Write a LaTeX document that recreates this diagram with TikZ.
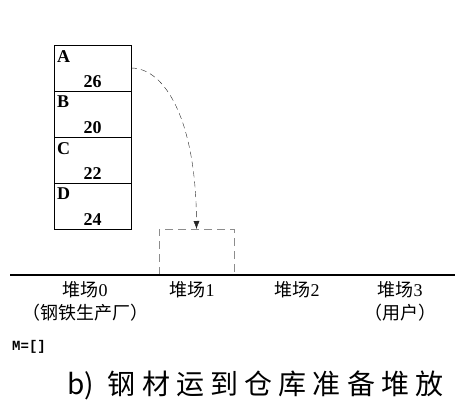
\documentclass[tikz,border=0pt]{standalone}
\usepackage{fontspec}
\setmainfont{Liberation Serif}
\newfontfamily\cjk{Noto Sans CJK SC}
\newfontfamily\cjkwide[LetterSpace=22]{Noto Sans CJK SC}
\newfontfamily\listfont{Liberation Mono}
\usetikzlibrary{arrows.meta,positioning}

\begin{document}
\begin{tikzpicture}[x=1pt,y=-1pt,
    slab/.style={draw,line width=0.8pt,minimum width=77pt,minimum height=46pt,inner sep=0pt,outer sep=0pt},
    slabtag/.style={font=\fontsize{18}{18}\selectfont\bfseries,inner sep=0pt},
    yard/.style={font=\fontsize{18}{20}\selectfont,inner sep=0pt}]
  \useasboundingbox (0,0) rectangle (471,409);
  \node[slab] (slabA) at (92.5,68) {};
  \node[slab,below=0pt of slabA] (slabB) {};
  \node[slab,below=0pt of slabB] (slabC) {};
  \node[slab,below=0pt of slabC] (slabD) {};
  \node[slabtag,anchor=north west] (tagA) at ([shift={(3pt,-5pt)}]slabA.north west) {A};
  \node[slabtag,anchor=north west] (tagB) at ([shift={(3pt,-5pt)}]slabB.north west) {B};
  \node[slabtag,anchor=north west] (tagC) at ([shift={(3pt,-5pt)}]slabC.north west) {C};
  \node[slabtag,anchor=north west] (tagD) at ([shift={(3pt,-5pt)}]slabD.north west) {D};
  \node[slabtag] (weightA) at ([yshift=-14pt]slabA.center) {26};
  \node[slabtag] (weightB) at ([yshift=-14pt]slabB.center) {20};
  \node[slabtag] (weightC) at ([yshift=-14pt]slabC.center) {22};
  \node[slabtag] (weightD) at ([yshift=-14pt]slabD.center) {24};
  \node[draw=gray!90,dash pattern=on 8pt off 5pt,line width=1pt,minimum width=75pt,minimum height=46pt,inner sep=0pt,outer sep=0pt] (slot) at (196.5,252) {};
  \draw[dash pattern=on 6pt off 4pt,gray!30!black,-{Latex[length=8pt,width=6pt]}] (slabA.east) .. controls (165,68) and (196,120) .. (slot.north);
  \coordinate (groundW) at (10,275);
  \coordinate (groundE) at (455,275);
  \draw[line width=1.6pt] (groundW) -- (groundE);
  \node[yard] (yard0) at (85,290) {{\cjk 堆场}0};
  \node[yard] (yard1) at (192,290) {{\cjk 堆场}1};
  \node[yard] (yard2) at (297,290) {{\cjk 堆场}2};
  \node[yard] (yard3) at (400,290) {{\cjk 堆场}3};
  \node[yard] (mill) at (85,313) {\cjk （钢铁生产厂）};
  \node[yard] (user) at (400,313) {\cjk （用户）};
  \node[font=\listfont\bfseries\fontsize{14}{14}\selectfont,anchor=west,inner sep=0pt] (mlist) at (12,347) {M=[]};
  \node[font=\fontsize{28}{30}\selectfont,anchor=west,inner sep=0pt] (caption) at (67,385) {{\cjk b)}\hspace{0.5em}{\cjkwide 钢材运到仓库准备堆放}};
\end{tikzpicture}
\end{document}
